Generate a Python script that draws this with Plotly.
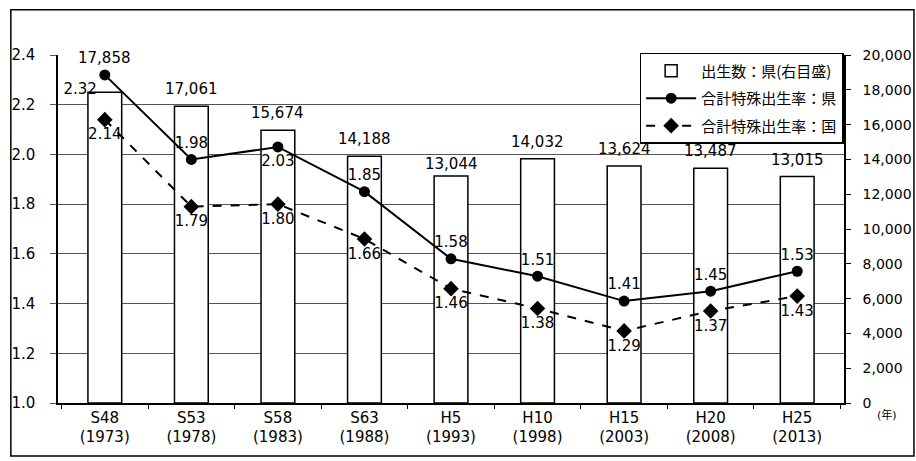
import plotly.graph_objects as go

categories = ["S48<br>(1973)", "S53<br>(1978)", "S58<br>(1983)", "S63<br>(1988)", "H5<br>(1993)",
              "H10<br>(1998)", "H15<br>(2003)", "H20<br>(2008)", "H25<br>(2013)"]
births_pref = [17858, 17061, 15674, 14188, 13044, 14032, 13624, 13487, 13015]
tfr_pref = [2.32, 1.98, 2.03, 1.85, 1.58, 1.51, 1.41, 1.45, 1.53]
tfr_nation = [2.14, 1.79, 1.80, 1.66, 1.46, 1.38, 1.29, 1.37, 1.43]

name_bar = "出生数：県(右目盛)"
name_pref = "合計特殊出生率：県"
name_nat = "合計特殊出生率：国"

# style: label offsets for bar labels (px)
bar_label_shift = [34, 17, 17, 17, 12, 17, 17, 17, 17]
pref_text_pos = ["bottom left", "top center", "bottom center", "top center", "top center",
                 "top center", "top center", "top center", "top center"]

FONT = "DejaVu Sans, Noto Sans CJK JP"

fig = go.Figure()
fig.add_trace(go.Bar(
    x=categories, y=births_pref, name=name_bar, yaxis="y",
    marker=dict(color="white", line=dict(color="black", width=1.5)),
    legendgroup="a",
))
fig.add_trace(go.Scatter(
    x=categories, y=tfr_pref, name=name_pref, yaxis="y2",
    mode="lines+markers+text", text=[f"{v:.2f}" for v in tfr_pref],
    textposition=pref_text_pos, textfont=dict(size=15, color="black", family=FONT),
    line=dict(color="black", width=2), marker=dict(symbol="circle", size=11, color="black"),
    legendgroup="b",
))
fig.add_trace(go.Scatter(
    x=categories, y=tfr_nation, name=name_nat, yaxis="y2",
    mode="lines+markers+text", text=[f"{v:.2f}" for v in tfr_nation],
    textposition="bottom center", textfont=dict(size=15, color="black", family=FONT),
    line=dict(color="black", width=2, dash="dash"), marker=dict(symbol="diamond", size=12, color="black"),
    legendgroup="c",
))

annotations = []
for c, v, s in zip(categories, births_pref, bar_label_shift):
    annotations.append(dict(x=c, y=v, xref="x", yref="y", text=f"{v:,}", showarrow=False,
                            yshift=s, font=dict(size=15, color="black", family=FONT)))
annotations.append(dict(x=1.04, y=-0.035, xref="paper", yref="paper", text="(年)", showarrow=False,
                        xanchor="left", yanchor="middle", font=dict(size=11, color="black", family=FONT)))

fig.update_layout(
    width=916, height=461,
    margin=dict(l=58, r=72, t=55, b=58),
    paper_bgcolor="white", plot_bgcolor="white",
    font=dict(family=FONT, size=15, color="black"),
    bargap=0.61,
    showlegend=True,
    legend=dict(x=0.74, y=1.006, xanchor="left", yanchor="top",
                bordercolor="black", borderwidth=1.5, bgcolor="white",
                font=dict(size=15, family="Noto Sans CJK JP"), itemwidth=50,
                traceorder="grouped", tracegroupgap=5),
    xaxis=dict(showline=True, linecolor="black", linewidth=1.5, ticks="outside",
               tickson="boundaries", ticklen=4, tickcolor="black", automargin=False,
               tickfont=dict(size=15, color="black", family=FONT), showgrid=False),
    yaxis=dict(side="right", range=[0, 20000], dtick=2000, tickformat=",", automargin=False,
               showgrid=False, zeroline=False, showline=True, linecolor="black", linewidth=1.5,
               ticks="outside", ticklen=5, tickcolor="black", ticklabelstandoff=9,
               tickfont=dict(size=14, color="black", family=FONT)),
    yaxis2=dict(overlaying="y", side="left", range=[1.0, 2.4], dtick=0.2, tickformat=".1f",
                automargin=False,
                showgrid=True, gridcolor="#555555", gridwidth=1, zeroline=False,
                showline=True, linecolor="black", linewidth=1.5,
                ticks="outside", ticklen=6, tickcolor="#555555", ticklabelstandoff=12,
                tickfont=dict(size=15, color="black", family=FONT)),
    annotations=annotations,
    shapes=[dict(type="rect", xref="paper", yref="paper", x0=-0.06, x1=1.089, y0=-0.152, y1=1.13,
                 line=dict(color="black", width=1.5), fillcolor="rgba(0,0,0,0)", layer="below")],
)

fig.write_html("out.html", config={"displayModeBar": False},
               post_script="document.body.style.margin='0';")
